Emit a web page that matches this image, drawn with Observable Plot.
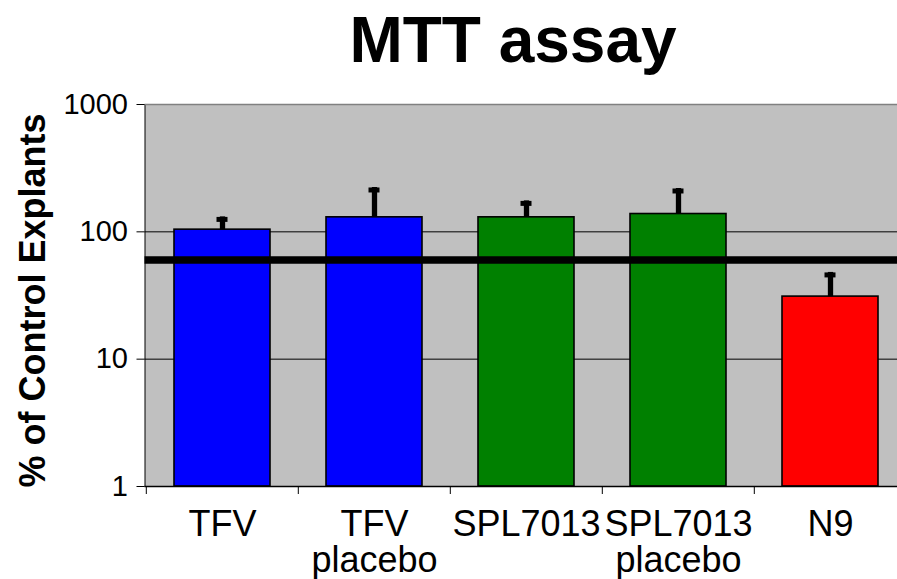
<!DOCTYPE html>
<html>
<head>
<meta charset="utf-8">
<script src="https://cdn.jsdelivr.net/npm/d3@7"></script>
<script src="https://cdn.jsdelivr.net/npm/@observablehq/plot@0.6"></script>
<style>
  html, body { margin: 0; padding: 0; background: white; overflow: hidden; width: 897px; height: 579px; }
  #title { font-family: "Liberation Sans", Arial, sans-serif; font-weight: bold; font-size: 64px;
           line-height: 80px; height: 80px; text-align: center; padding-left: 129px; box-sizing: border-box; width: 897px; }
</style>
</head>
<body>
<div id="title">MTT assay</div>
<div id="chart"></div>
<script>
const categories = ["TFV", "TFV placebo", "SPL7013", "SPL7013 placebo", "N9"];
const values = [104, 130, 130, 138, 31];
const upper = [131, 223, 175, 219, 48];
const colors = ["#0000ff", "#0000ff", "#008000", "#008000", "#ff0000"];
const yTicks = [1, 10, 100, 1000];
const gridValues = [10, 100];
const threshold = 60;
const yLabel = "% of Control Explants";

const data = categories.map((c, i) => ({name: c, value: values[i], upper: upper[i], color: colors[i]}));

const width = 897, height = 499;
const marginLeft = 144.5, marginRight = -9.5, marginTop = 24, marginBottom = 93;
const step = (width - marginRight - marginLeft) / categories.length;

const chart = Plot.plot({
  width, height, marginLeft, marginRight, marginTop, marginBottom,
  style: {fontFamily: "'Liberation Sans', Arial, sans-serif", color: "black", background: "white"},
  x: {domain: categories, paddingInner: 0.37, paddingOuter: 0.185},
  y: {type: "log", domain: [yTicks[0], yTicks[yTicks.length - 1]]},
  color: {type: "identity"},
  marks: [
    Plot.frame({fill: "#c0c0c0", stroke: "black"}),
    Plot.ruleY(gridValues, {stroke: "black", strokeWidth: 1}),
    Plot.barY(data, {x: "name", y1: () => yTicks[0], y2: "value", fill: "color", stroke: "black", strokeWidth: 1.6}),
    Plot.ruleX(data, {x: "name", y1: "value", y2: "upper", stroke: "black", strokeWidth: 5.3}),
    Plot.tickY(data, {x: "name", y: "upper", stroke: "black", strokeWidth: 5, insetLeft: 42.5, insetRight: 42.5, dy: 2.5}),
    Plot.ruleY([threshold], {stroke: "black", strokeWidth: 7.5}),
    Plot.ruleY([yTicks[yTicks.length - 1]], {stroke: "#808080", strokeWidth: 1.5}),
    Plot.ruleY([yTicks[0]], {stroke: "black", strokeWidth: 1.5}),
    Plot.axisY({ticks: yTicks, tickSize: 8, tickPadding: 9, fontSize: 29, tickFormat: d => String(d), label: null}),
    Plot.axisX({tickSize: 8, tickFormat: () => "", dx: -step / 2, label: null}),
    Plot.axisX({tickSize: 0, tickPadding: 24, fontSize: 36, lineHeight: 1.0, tickFormat: d => d.replace(" ", "\n"), label: null}),
    Plot.text([yLabel], {text: d => d, frameAnchor: "left", rotate: -90, fontSize: 36, fontWeight: "bold",
      textAnchor: "middle", lineAnchor: "middle", dx: -112, dy: 5, fill: "black"})
  ]
});
document.getElementById("chart").appendChild(chart);
</script>
</body>
</html>
